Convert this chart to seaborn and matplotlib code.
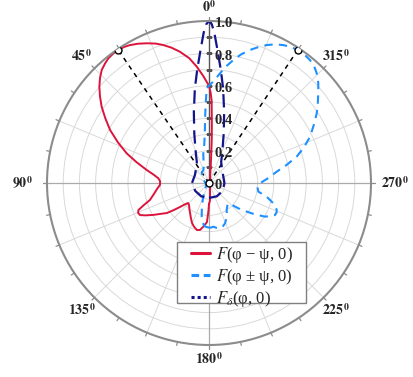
import numpy as np
import matplotlib
matplotlib.use("Agg")
import matplotlib.pyplot as plt
from matplotlib.lines import Line2D
from matplotlib.patches import Rectangle
import seaborn as sns

# pattern curves, angle in degrees (0 at top, counter-clockwise) and radius
red_theta = [-180, -177, -174, -170, -160, -140, -110, -80, -50, -30, -15, -9, -6, -5, -4.2, -3.6,
             -2.8, -2.2, -1.8, -1.0, 0, 3, 6, 9, 12.5, 15.5, 18.4, 21, 24, 27, 29.8, 32, 34.3,
             36.5, 38.9, 41, 43.5, 46, 48.7, 51.5, 54.6, 58, 61.8, 66, 70.2, 74, 78.2, 81.5,
             84.7, 88, 92.3, 97, 101, 106, 109, 111, 113, 115, 117, 119.7, 122.5, 125.5, 127.5,
             129.6, 131.5, 133.6, 136, 140, 144, 147.8, 152, 157, 161, 165.7, 169.2, 172.2,
             175, 177, 178, 179, 180]
red_r = [0.13, 0.11, 0.062, 0.035, 0.02, 0.01, 0.005, 0.005, 0.008, 0.015, 0.03, 0.045, 0.1, 0.14,
         0.2, 0.27, 0.36, 0.44, 0.51, 0.56, 0.6, 0.66, 0.722, 0.78, 0.83, 0.867, 0.898, 0.922,
         0.944, 0.965, 0.981, 0.99, 0.994, 0.994, 0.989, 0.978, 0.962, 0.935, 0.901, 0.86,
         0.813, 0.755, 0.693, 0.615, 0.54, 0.465, 0.393, 0.345, 0.314, 0.302, 0.303, 0.325,
         0.345, 0.379, 0.43, 0.467, 0.475, 0.469, 0.44, 0.398, 0.355, 0.319, 0.275, 0.232,
         0.2, 0.179, 0.18, 0.19, 0.205, 0.219, 0.24, 0.268, 0.285, 0.3, 0.295, 0.274, 0.255,
         0.241, 0.2, 0.167, 0.13]

blue_theta = [-180, -177, -174.4, -170, -166.4, -162, -158.3, -152, -146.8, -141, -136.4, -133,
              -130.8, -128, -125.4, -123, -121, -118, -115.9, -113.5, -111.7, -109.5, -107.5,
              -105.5, -103.4, -99.9, -95, -90.3, -85, -80.5, -77, -73.3, -69.5, -65.4, -61,
              -57.1, -54, -50.6, -47.5, -44.5, -42, -39.4, -36.5, -33.7, -31, -28.3, -25.5,
              -22.7, -20, -17.1, -14, -11.2, -8.5, -5.7, -3, 0, 1.4, 2.5, 3.6, 5, 7, 10.9, 16,
              22, 36, 60, 100, 140, 157, 163, 167.8, 171, 174.8, 180]
blue_r = [0.276, 0.275, 0.271, 0.282, 0.288, 0.28, 0.268, 0.235, 0.199, 0.18, 0.173, 0.205,
          0.239, 0.28, 0.323, 0.365, 0.403, 0.435, 0.453, 0.455, 0.45, 0.435, 0.416, 0.39,
          0.366, 0.309, 0.3, 0.315, 0.37, 0.424, 0.49, 0.565, 0.625, 0.686, 0.74, 0.792, 0.83,
          0.873, 0.915, 0.949, 0.97, 0.982, 0.988, 0.987, 0.98, 0.967, 0.948, 0.923, 0.893,
          0.859, 0.818, 0.774, 0.73, 0.68, 0.635, 0.6, 0.585, 0.48, 0.39, 0.3, 0.24, 0.187,
          0.12, 0.09, 0.076, 0.04, 0.02, 0.03, 0.09, 0.15, 0.213, 0.25, 0.27, 0.276]

navy_theta = [-180, -150, -120, -90, -60, -45, -37, -30, -25, -20, -16.5, -12, -8.5, -6, -3.7,
              -2, -1, 0, 1, 2, 3.7, 6, 8.5, 12, 16.5, 20, 25, 30, 37, 45, 60, 90, 120, 150, 180]
navy_r = [0.092, 0.095, 0.098, 0.095, 0.1, 0.115, 0.13, 0.15, 0.19, 0.25, 0.32, 0.45, 0.59, 0.7,
          0.82, 0.93, 0.98, 1.0, 0.98, 0.93, 0.82, 0.7, 0.59, 0.45, 0.32, 0.25, 0.19, 0.15,
          0.13, 0.115, 0.1, 0.105, 0.098, 0.095, 0.092]

peak_theta = [34.3, -33.7]
peak_r = [0.994, 0.987]

r_ticks = [0, 0.2, 0.4, 0.6, 0.8, 1.0]
r_tick_labels = ['0', '0.2', '0.4', '0.6', '0.8', '1.0']
angle_ticks = [0, 45, 90, 135, 180, 225, 270, 315]
legend_labels = ['$F$(φ − ψ, 0)', '$F$(φ ± ψ, 0)', '$F_\\delta$(φ, 0)']

red = '#dc143c'
light_blue = '#1e90ff'
navy = '#14148c'

sns.set_theme(style="white")
plt.rcParams['font.family'] = ['Liberation Serif', 'DejaVu Serif']
plt.rcParams['mathtext.fontset'] = 'stix'

fig = plt.figure(figsize=(4.13, 3.77), dpi=100)
ax = fig.add_axes([0.1138, 0.0849, 0.7845, 0.8594], projection='polar')
ax.set_theta_zero_location('N')
ax.set_theta_direction(1)
ax.set_ylim(0, 1.0)
ax.set_rgrids(np.arange(0.1, 1.01, 0.1), labels=[])
ax.set_thetagrids(np.arange(0, 360, 22.5), labels=[])
ax.grid(color='#d9d9d9', lw=0.7)
ax.spines['polar'].set_color('#8c8c8c')
ax.spines['polar'].set_linewidth(1.5)

# darker axes through the centre
ax.plot([0, 0], [0, 1], color='#555555', lw=1.0)
for a in [90, 270, 180]:
    ax.plot([np.deg2rad(a)] * 2, [0, 1], color='#aaaaaa', lw=0.9)
ax.plot([0] * 10, np.arange(0.1, 1.01, 0.1), ls='none', marker='_', ms=5, color='#555555')

# ticks on the outer circle
for t in np.arange(0, 360, 11.25):
    ax.plot([np.deg2rad(t)] * 2, [1.0, 1.022], color='#8c8c8c', lw=0.9, clip_on=False)

# dashed guides to the main lobe maxima
for t, r in zip(peak_theta, peak_r):
    ax.plot([0, np.deg2rad(t)], [0, r], color='black', lw=1.1, linestyle=(0, (3, 3)))

sns.lineplot(x=np.deg2rad(red_theta), y=red_r, ax=ax, sort=False, estimator=None,
             color=red, lw=1.4)
sns.lineplot(x=np.deg2rad(blue_theta), y=blue_r, ax=ax, sort=False, estimator=None,
             color=light_blue, lw=1.5, linestyle=(0, (4, 3)))
sns.lineplot(x=np.deg2rad(navy_theta), y=navy_r, ax=ax, sort=False, estimator=None,
             color=navy, lw=1.6, linestyle=(0, (6, 3)))

ax.plot(np.deg2rad(peak_theta), peak_r, ls='none', marker='o', ms=5, mfc='white',
        mec='black', mew=1, zorder=5)
ax.plot([0], [0], ls='none', marker='o', ms=5, mfc='white', mec='black', mew=1, zorder=5)

for r, lbl in zip(r_ticks, r_tick_labels):
    ax.annotate(lbl, xy=(0, r), xytext=(4, -2), textcoords='offset points',
                ha='left', va='center', fontsize=10.5, fontweight='bold')

for a in angle_ticks:
    rr = 1.15 if a in (90, 270) else (1.085 if a in (0, 180) else 1.11)
    ax.text(np.deg2rad(a), rr, r'$\mathbf{%d}^{\mathbf{0}}$' % a, ha='center', va='center',
            fontsize=10)

# legend box drawn by hand, Maple style with wide side margins
fig.patches.append(Rectangle((177 / 413, 1 - 303 / 377), 129 / 413, 61 / 377,
                             transform=fig.transFigure, facecolor='white',
                             edgecolor='#808080', lw=1.0, zorder=4))
handles = [Line2D([], [], color=red, lw=2.2),
           Line2D([], [], color=light_blue, lw=2.2, linestyle=(0, (2.5, 1.5))),
           Line2D([], [], color=navy, lw=2.2, linestyle=(0, (1, 1)))]
leg = fig.legend(handles, legend_labels, loc='upper left',
                 bbox_to_anchor=(188 / 413, 1 - 242 / 377), frameon=False, fontsize=12,
                 handlelength=1.1, handletextpad=0.4, borderpad=0.2, labelspacing=0.1,
                 borderaxespad=0)
leg.set_zorder(5)

fig.savefig('out.png', dpi=100)
